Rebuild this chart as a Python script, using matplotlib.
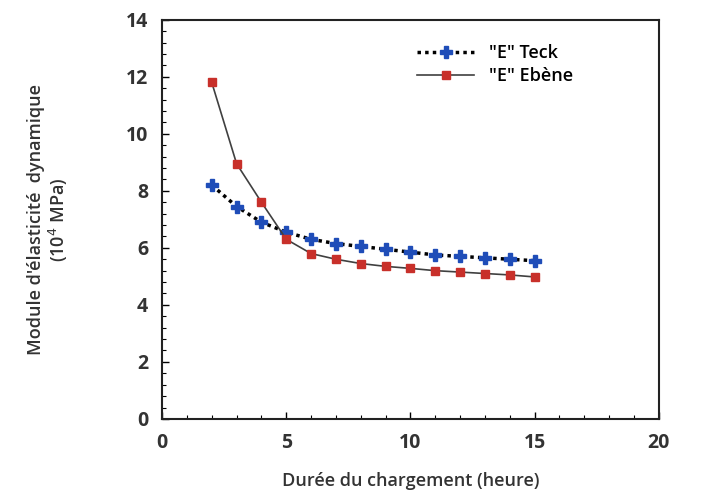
import matplotlib.pyplot as plt
from matplotlib.ticker import MultipleLocator

# durée du chargement (heure)
hours = [2, 3, 4, 5, 6, 7, 8, 9, 10, 11, 12, 13, 14, 15]
# module d'élasticité dynamique (10^4 MPa)
e_teck = [8.2, 7.45, 6.9, 6.55, 6.3, 6.15, 6.05, 5.95, 5.85, 5.75, 5.7, 5.65, 5.6, 5.55]
e_ebene = [11.8, 8.95, 7.6, 6.3, 5.8, 5.6, 5.45, 5.35, 5.28, 5.2, 5.15, 5.1, 5.05, 4.98]

plt.rcParams['font.family'] = ['Open Sans', 'DejaVu Sans']

fig = plt.figure(figsize=(7.27, 4.94), dpi=100)
ax = fig.add_axes([0.223, 0.152, 0.683, 0.808])

ax.plot(hours, e_teck, color='black', linestyle=(0, (1, 1.2)), linewidth=2.5,
        marker='P', markersize=9, markerfacecolor='#1f4db8', markeredgecolor='#1f4db8',
        label='"E" Teck')
ax.plot(hours, e_ebene, color='#404040', linestyle='-', linewidth=1.2,
        marker='s', markersize=6, markerfacecolor='#c8302a', markeredgecolor='#c8302a',
        label='"E" Ebène')

ax.set_xlim(0, 20)
ax.set_ylim(0, 14)
ax.xaxis.set_major_locator(MultipleLocator(5))
ax.xaxis.set_minor_locator(MultipleLocator(1))
ax.yaxis.set_major_locator(MultipleLocator(2))
ax.yaxis.set_minor_locator(MultipleLocator(0.4))
ax.tick_params(which='both', direction='in', top=False, right=False)
ax.tick_params(which='major', length=5, width=1, labelsize=14, pad=10)
ax.tick_params(which='minor', length=3, width=0.8)
for lbl in ax.get_xticklabels() + ax.get_yticklabels():
    lbl.set_fontweight('bold')
    lbl.set_color('#333333')
for sp in ax.spines.values():
    sp.set_linewidth(1.5)
    sp.set_color('#222222')

ax.set_xlabel("Durée du chargement (heure)", fontsize=13, color='#333333',
              fontweight='semibold', labelpad=14)
ax.set_ylabel("Module d'élasticité  dynamique\n(10$^4$ MPa)", fontsize=13,
              color='#333333', fontweight='semibold', labelpad=40, linespacing=1.1)

ax.legend(loc='upper left', bbox_to_anchor=(0.48, 0.98), frameon=False,
          prop={'size': 13, 'weight': 'semibold'}, handlelength=3.2, labelspacing=0.3)

fig.savefig('out.png', dpi=100)
